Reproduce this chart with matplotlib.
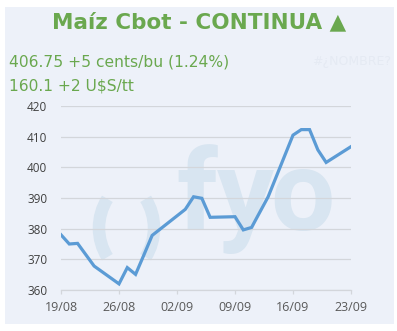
"""Maiz Cbot continuous price chart."""

from datetime import date

import matplotlib.dates as mdates
import matplotlib.pyplot as plt
from matplotlib.patches import Arc, Rectangle
from matplotlib.transforms import IdentityTransform

dates = [
    "2019-08-19", "2019-08-20", "2019-08-21", "2019-08-22", "2019-08-23",
    "2019-08-26", "2019-08-27", "2019-08-28", "2019-08-29", "2019-08-30",
    "2019-09-03", "2019-09-04", "2019-09-05", "2019-09-06",
    "2019-09-09", "2019-09-10", "2019-09-11", "2019-09-12", "2019-09-13",
    "2019-09-16", "2019-09-17", "2019-09-18", "2019-09-19", "2019-09-20",
    "2019-09-23",
]
prices = [
    378.0, 375.0, 375.2, 371.5, 367.8,
    362.0, 367.3, 365.1, 371.4, 377.8,
    386.3, 390.4, 389.9, 383.7,
    383.9, 379.6, 380.4, 385.4, 390.4,
    410.5, 412.3, 412.3, 405.7, 401.6,
    406.75,
]
tick_dates = ["2019-08-19", "2019-08-26", "2019-09-02", "2019-09-09", "2019-09-16", "2019-09-23"]
y_ticks = [360, 370, 380, 390, 400, 410, 420]

title = "Maíz Cbot - CONTINUA ▲"
line1 = "406.75 +5 cents/bu (1.24%)"
line2 = "160.1 +2 U$S/tt"

GREEN = "#6aa84f"
BLUE = "#5b9bd5"
PANEL = "#edf1f9"
WATERMARK = "#d8e5f1"

x = [date.fromisoformat(d) for d in dates]
xt = [date.fromisoformat(d) for d in tick_dates]

fig = plt.figure(figsize=(3.97, 3.31), dpi=100)
fig.patch.set_facecolor("white")
W, H = 397, 331

# light panel behind everything
fig.patches.append(Rectangle((5 / W, 1 - 324 / H), 389 / W, 317 / H,
                             transform=fig.transFigure, facecolor=PANEL,
                             edgecolor="none", zorder=-5))

fig.text(199 / W, 1 - 22 / H, title, ha="center", va="center",
         fontsize=15.5, fontweight="bold", color=GREEN,
         family=["DejaVu Sans"])
fig.text(9 / W, 1 - 62 / H, line1, ha="left", va="center",
         fontsize=11.2, color=GREEN)
fig.text(9 / W, 1 - 86 / H, line2, ha="left", va="center",
         fontsize=11.2, color=GREEN)
fig.text(352 / W, 1 - 62 / H, "#¿NOMBRE?", ha="center", va="center",
         fontsize=9, color="#e5eaf3")

# plot area: x 61..351, y 106..290 (pixels)
AX_W, AX_H = 290, 184
ax = fig.add_axes([61 / W, 1 - 290 / H, AX_W / W, AX_H / H])
ax.set_zorder(2)
ax.set_facecolor("none")

# watermark: "( )" as thick arcs (pixel coords), "fyo" letter by letter
r = 55
for cx, t1, t2 in ((154, 148, 212), (99, -32, 32)):
    ax.add_patch(Arc((cx, H - 228), 2 * r, 2 * r, theta1=t1, theta2=t2,
                     transform=IdentityTransform(), color=WATERMARK, lw=9,
                     capstyle="butt", zorder=0, clip_on=False))
for letter, cx in (("f", 197), ("y", 245), ("o", 302)):
    ax.text((cx - 61) / AX_W, (290 - 230) / AX_H, letter,
            transform=ax.transAxes, ha="center", va="baseline",
            fontsize=82, fontweight="bold", family="Roboto",
            color=WATERMARK, zorder=0)

ax.plot(x, prices, color=BLUE, lw=2.3, solid_joinstyle="miter", zorder=3)

ax.set_xlim(xt[0], xt[-1])
ax.set_ylim(360, 420)
ax.set_yticks(y_ticks)
ax.set_xticks(xt)
ax.xaxis.set_major_formatter(mdates.DateFormatter("%d/%m"))

ax.grid(axis="y", color="#d3d6db", lw=0.9)
ax.set_axisbelow(True)
for side in ("top", "right", "left"):
    ax.spines[side].set_visible(False)
ax.spines["bottom"].set_color("#d3d6db")
ax.spines["bottom"].set_linewidth(0.9)

for lab in ax.get_yticklabels() + ax.get_xticklabels():
    lab.set_family("Open Sans")
ax.tick_params(axis="y", length=0, pad=9.8, labelsize=8.5, labelcolor="#404040")
ax.tick_params(axis="x", length=3, width=0.9, color="#d3d6db", pad=5,
               labelsize=9, labelcolor="#595959")

fig.savefig("out.png", dpi=100)
